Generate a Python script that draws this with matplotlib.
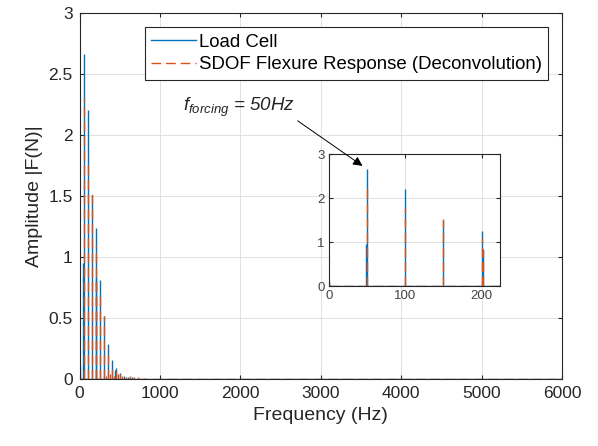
import matplotlib.pyplot as plt

plt.rcParams['font.family'] = ['Liberation Sans', 'DejaVu Sans']
plt.rcParams['mathtext.fontset'] = 'custom'
plt.rcParams['mathtext.it'] = 'Liberation Sans:italic'
plt.rcParams['mathtext.rm'] = 'Liberation Sans'

# spectrum peaks (Hz, N)
lc_freq = [0, 48, 50, 100, 150, 200, 202, 250, 300, 350, 400, 440, 450, 500, 550, 600, 650]
lc_amp = [0.11, 0.95, 2.67, 2.21, 1.51, 1.24, 0.83, 0.81, 0.52, 0.29, 0.16, 0.08, 0.09, 0.05, 0.03, 0.02, 0.015]

sd_freq = [0, 50, 100, 150, 200, 202, 250, 300, 325, 350, 375, 400, 425, 450, 475,
           500, 525, 575, 625, 675, 725, 800]
sd_amp = [0.02, 2.30, 1.78, 1.52, 1.09, 0.80, 0.70, 0.52, 0.03, 0.25, 0.04, 0.12, 0.03,
          0.07, 0.04, 0.04, 0.03, 0.02, 0.03, 0.02, 0.02, 0.01]

freq_range = [0, 6000]
inset_range = [0, 224]

blue = '#0072BD'
orange = '#D95319'
dark = '#262626'
dash = (0, (7, 3.5))

fig = plt.figure(figsize=(5.98, 4.46), dpi=100)
ax = fig.add_axes([0.133, 0.1496, 0.8069, 0.8206])
axin = fig.add_axes([0.550, 0.3587, 0.286, 0.296])


def draw(a):
    a.vlines(lc_freq, 0, lc_amp, color=blue, lw=1.0)
    a.hlines(0, freq_range[0], freq_range[1], color=blue, lw=1.0)
    a.vlines(sd_freq, 0, sd_amp, color=orange, lw=1.0, linestyles=dash)
    a.hlines(0, freq_range[0], freq_range[1], color=orange, lw=1.0, linestyles=dash)
    a.grid(True, color='#dcdcdc', lw=0.6)
    a.set_axisbelow(True)
    a.tick_params(direction='in', top=True, right=True, colors=dark, length=3)
    for s in a.spines.values():
        s.set_color(dark)
        s.set_linewidth(0.8)


draw(ax)
ax.set_xlim(freq_range)
ax.set_ylim(0, 3)
ax.set_xticks(range(0, 6001, 1000))
ax.set_yticks([0, 0.5, 1, 1.5, 2, 2.5, 3])
ax.set_yticklabels(['0', '0.5', '1', '1.5', '2', '2.5', '3'])
ax.tick_params(labelsize=12.5, pad=5)
ax.set_xlabel('Frequency (Hz)', fontsize=14, color=dark)
ax.set_ylabel('Amplitude |F(N)|', fontsize=14, color=dark)

h1, = ax.plot([], [], color=blue, lw=1.0, label='Load Cell')
h2, = ax.plot([], [], color=orange, lw=1.0, ls=dash,
              label='SDOF Flexure Response (Deconvolution)')
leg = ax.legend(handles=[h1, h2], loc='upper right', bbox_to_anchor=(0.971, 0.962),
                borderaxespad=0, fontsize=13.4, fancybox=False, framealpha=1,
                edgecolor=dark, handlelength=2.4, handletextpad=0.15,
                borderpad=0.35, labelspacing=0.3)
leg.get_frame().set_linewidth(0.8)

draw(axin)
axin.set_xlim(inset_range)
axin.set_ylim(0, 3)
axin.set_xticks([0, 100, 200])
axin.set_yticks([0, 1, 2, 3])
axin.tick_params(labelsize=9.5, pad=3, labelcolor='#444444')

# annotation drawn from the inset so the arrow head sits above it
axin.annotate(r'$f_{forcing}$ = 50Hz', xy=(44, 2.73), xycoords='data',
              xytext=(1285, 2.2), textcoords=ax.transData, fontsize=13.5,
              style='italic', color=dark, annotation_clip=False,
              arrowprops=dict(arrowstyle='-|>', color='black', lw=0.7,
                              mutation_scale=14, shrinkA=0, shrinkB=0,
                              relpos=(1.0, 0.0)))

fig.savefig('out.png', dpi=100)
